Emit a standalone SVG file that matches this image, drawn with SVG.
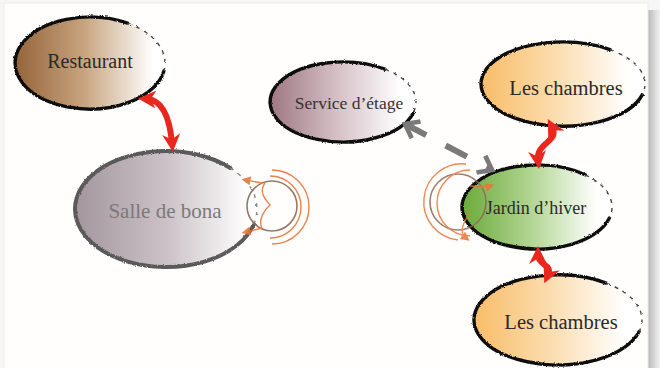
<svg xmlns="http://www.w3.org/2000/svg" width="660" height="368" viewBox="0 0 660 368">
  <style>
    .lbl { font-family: "Liberation Serif", "Times New Roman", serif; text-anchor: middle; dominant-baseline: central; }
    .edge { fill: none; stroke: #111; stroke-width: 3.4; stroke-linecap: round; }
    .edge-dash { fill: none; stroke: #444; stroke-width: 1.4; stroke-dasharray: 4 5; }
    .red { fill: none; stroke: #e8281e; stroke-width: 6; stroke-linecap: round; }
    .orange { fill: none; stroke: #e8753a; stroke-width: 1.4; }
  </style>
  <defs>
    <linearGradient id="g-rest" x1="0" x2="1" y1="0" y2="0">
      <stop offset="0" stop-color="#94643a"/>
      <stop offset="0.45" stop-color="#c6a27c"/>
      <stop offset="0.92" stop-color="#ffffff"/>
    </linearGradient>
    <linearGradient id="g-salle" x1="0" x2="1" y1="0" y2="0">
      <stop offset="0" stop-color="#a3979d"/>
      <stop offset="0.5" stop-color="#cbc1c6"/>
      <stop offset="0.95" stop-color="#ffffff"/>
    </linearGradient>
    <linearGradient id="g-serv" x1="0" x2="1" y1="0" y2="0">
      <stop offset="0" stop-color="#9e7782"/>
      <stop offset="0.45" stop-color="#d4bfc5"/>
      <stop offset="0.9" stop-color="#ffffff"/>
    </linearGradient>
    <linearGradient id="g-ch" x1="0" x2="1" y1="0" y2="0">
      <stop offset="0" stop-color="#f8bd68"/>
      <stop offset="0.45" stop-color="#fbdcae"/>
      <stop offset="0.9" stop-color="#ffffff"/>
    </linearGradient>
    <linearGradient id="g-jard" x1="0" x2="1" y1="0" y2="0">
      <stop offset="0" stop-color="#6aaa3a"/>
      <stop offset="0.45" stop-color="#b0d490"/>
      <stop offset="0.9" stop-color="#ffffff"/>
    </linearGradient>
    <linearGradient id="g-shadow" x1="0" x2="1" y1="0" y2="0">
      <stop offset="0" stop-color="#b8b8b8"/>
      <stop offset="1" stop-color="#f2f2f2"/>
    </linearGradient>
    <filter id="rough" x="-10%" y="-10%" width="120%" height="120%">
      <feTurbulence type="fractalNoise" baseFrequency="0.9" numOctaves="2" seed="3" result="n"/>
      <feDisplacementMap in="SourceGraphic" in2="n" scale="2.5" xChannelSelector="R" yChannelSelector="G"/>
    </filter>
    <marker id="red-head" viewBox="0 0 10 10" refX="5" refY="5" markerWidth="18" markerHeight="18" markerUnits="userSpaceOnUse" orient="auto-start-reverse">
      <path d="M0,0 L10,5 L0,10 L3,5 z" fill="#e8281e"/>
    </marker>
    <marker id="grey-head" viewBox="0 0 12 14" refX="9" refY="7" markerWidth="20" markerHeight="22" markerUnits="userSpaceOnUse" orient="auto-start-reverse">
      <polyline points="1,1 9,7 1,13" fill="none" stroke="#7a7a7a" stroke-width="3"/>
    </marker>
    <marker id="or-head" viewBox="0 0 10 10" refX="5" refY="5" markerWidth="9" markerHeight="9" markerUnits="userSpaceOnUse" orient="auto">
      <path d="M0,0 L10,5 L0,10 z" fill="#e8753a"/>
    </marker>
  </defs>

  <!-- page with drop shadow -->
  <rect x="0" y="0" width="660" height="368" fill="#f6f6f6"/>
  <rect x="648" y="10" width="12" height="358" fill="url(#g-shadow)"/>
  <rect x="4" y="3" width="644" height="370" fill="#fffefc" stroke="#ececec" stroke-width="1"/>

  <!-- nodes -->
  <g id="restaurant">
    <ellipse cx="90" cy="63" rx="75" ry="46" fill="url(#g-rest)"/>
    <g filter="url(#rough)">
      <path class="edge" d="M163.9 71 A75 46 0 1 1 127.5 23.2"/>
      <path class="edge-dash" d="M127.5 23.2 A75 46 0 0 1 163.9 71"/>
    </g>
    <text class="lbl" x="90" y="61" font-size="20" fill="#2a2a2a">Restaurant</text>
  </g>

  <g id="salle">
    <ellipse cx="166" cy="209" rx="91" ry="58" fill="url(#g-salle)"/>
    <g filter="url(#rough)">
      <path class="edge" style="stroke:#5a5a5a;stroke-width:4" d="M253.9 224 A91 58 0 1 1 230.3 168"/>
      <path class="edge-dash" style="stroke:#888" d="M230.3 168 A91 58 0 0 1 253.9 224"/>
    </g>
    <text class="lbl" x="165" y="211" font-size="21" fill="#7a7a7a">Salle de bona</text>
  </g>

  <g id="service">
    <ellipse cx="343" cy="102" rx="73" ry="40" fill="url(#g-serv)"/>
    <g filter="url(#rough)">
      <path class="edge" d="M413.5 112.4 A73 40 0 1 1 384.9 69.2"/>
      <path class="edge-dash" d="M384.9 69.2 A73 40 0 0 1 413.5 112.4"/>
    </g>
    <text class="lbl" x="349" y="103" font-size="17.5" fill="#333">Service d’étage</text>
  </g>

  <g id="chambres-haut">
    <ellipse cx="563" cy="84" rx="82" ry="42" fill="url(#g-ch)"/>
    <g filter="url(#rough)">
      <path class="edge" d="M642.2 94.9 A82 42 0 1 1 610 49.6"/>
      <path class="edge-dash" d="M610 49.6 A82 42 0 0 1 642.2 94.9"/>
    </g>
    <text class="lbl" x="566" y="88" font-size="20.5" fill="#2a2a2a">Les chambres</text>
  </g>

  <g id="jardin">
    <ellipse cx="537" cy="207" rx="75" ry="42" fill="url(#g-jard)"/>
    <g filter="url(#rough)">
      <path class="edge" d="M609.4 217.9 A75 42 0 1 1 585.2 174.8"/>
      <path class="edge-dash" d="M585.2 174.8 A75 42 0 0 1 609.4 217.9"/>
    </g>
    <text class="lbl" x="536" y="208" font-size="18" fill="#2a2a2a">Jardin d’hiver</text>
  </g>

  <g id="chambres-bas">
    <ellipse cx="558" cy="320" rx="84" ry="45" fill="url(#g-ch)"/>
    <g filter="url(#rough)">
      <path class="edge" d="M639.1 331.6 A84 45 0 1 1 606.2 283.1"/>
      <path class="edge-dash" d="M606.2 283.1 A84 45 0 0 1 639.1 331.6"/>
    </g>
    <text class="lbl" x="561" y="322" font-size="20.5" fill="#2a2a2a">Les chambres</text>
  </g>

  <!-- connectors -->
  <g id="connectors">
    <path class="red" d="M147 99 C164 100 170 122 172 143" marker-start="url(#red-head)" marker-end="url(#red-head)"/>
    <path class="red" d="M552 127 C560 142 536 142 538 160" marker-start="url(#red-head)" marker-end="url(#red-head)"/>
    <path class="red" d="M538 255 C538 266 553 264 548 275" marker-start="url(#red-head)" marker-end="url(#red-head)"/>
    <path d="M405 124 L492 170" fill="none" stroke="#7a7a7a" stroke-width="6" stroke-dasharray="24 22" marker-start="url(#grey-head)" marker-end="url(#grey-head)"/>

    <!-- self loop on Salle de bona -->
    <g opacity="0.9">
      <circle cx="272" cy="206" r="25" fill="none" stroke="#8a6a58" stroke-width="1.6"/>
      <path class="orange" d="M270 176 A31 31 0 1 1 270 238"/>
      <path class="orange" d="M272 170 A37 37 0 1 1 272 244"/>
      <path class="orange" d="M265 183 C258 192 266 200 270 205 C264 210 258 220 262 228"/>
      <path class="orange" d="M262 183 L246 180" marker-end="url(#or-head)"/>
      <path class="orange" d="M262 228 L246 232" marker-end="url(#or-head)"/>
    </g>

    <!-- self loop on Jardin d'hiver -->
    <g opacity="0.85">
      <circle cx="458" cy="202" r="28" fill="none" stroke="#8a6a58" stroke-width="1.6"/>
      <path class="orange" d="M470 170 A33 33 0 1 0 470 236"/>
      <path class="orange" d="M466 164 A38 38 0 1 0 458 240"/>
      <path class="orange" d="M470 186 C478 186 484 188 490 186" marker-end="url(#or-head)"/>
      <path class="orange" d="M470 212 C464 222 458 232 466 238" marker-end="url(#or-head)"/>
    </g>
  </g>
</svg>
